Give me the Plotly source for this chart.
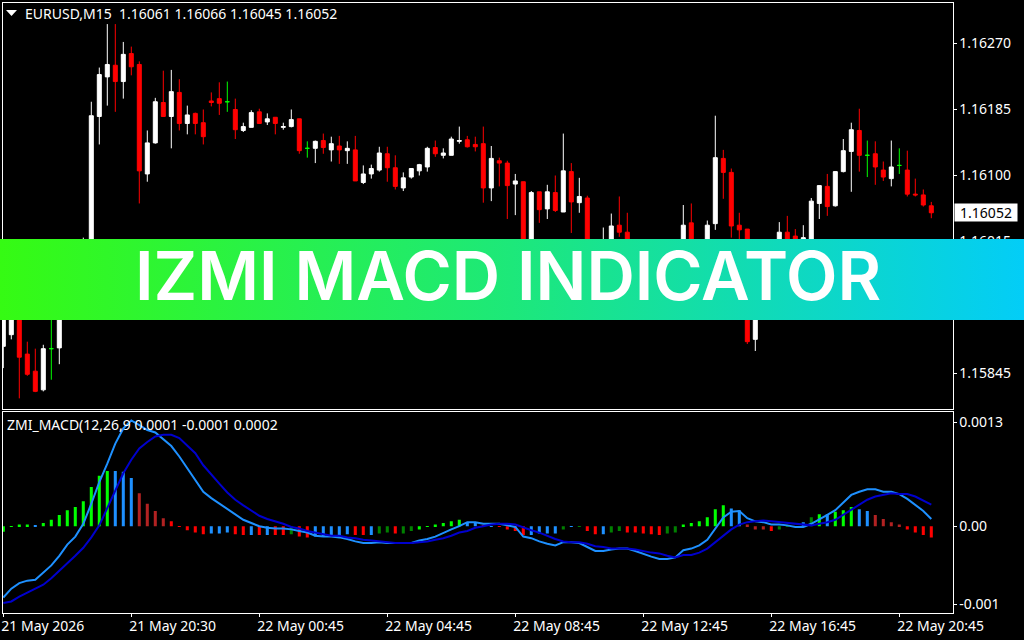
import base64
import plotly.graph_objects as go

# EURUSD M15 candles (the part behind the banner is a guess)
opens = [
    1.15880, 1.15895, 1.15953, 1.15870, 1.15848, 1.15824, 1.15877, 1.15878, 1.15946, 1.15972,
    1.15953, 1.15998, 1.16176, 1.16227, 1.16242, 1.16221, 1.16257, 1.16243, 1.16102, 1.16142,
    1.16194, 1.16176, 1.16207, 1.16167, 1.16180, 1.16168, 1.16196, 1.16199, 1.16195, 1.16185,
    1.16158, 1.16162, 1.16182, 1.16169, 1.16175, 1.16162, 1.16163, 1.16173, 1.16135, 1.16135,
    1.16145, 1.16133, 1.16138, 1.16132, 1.16133, 1.16091, 1.16102, 1.16107, 1.16128, 1.16110,
    1.16084, 1.16098, 1.16106, 1.16111, 1.16136, 1.16126, 1.16126, 1.16144, 1.16146, 1.16140,
    1.16141, 1.16084, 1.16119, 1.16116, 1.16089, 1.16092, 1.15989, 1.16079, 1.16057, 1.16078,
    1.16053, 1.16105, 1.16065, 1.16071, 1.15998, 1.15972, 1.16004, 1.16036, 1.16027, 1.15989,
    1.15953, 1.15981, 1.15959, 1.15985, 1.15950, 1.16002, 1.16039, 1.16004, 1.15989, 1.16038,
    1.16122, 1.16104, 1.16036, 1.16031, 1.15889, 1.15989, 1.16004, 1.15985, 1.16027, 1.16022,
    1.15998, 1.16004, 1.16064, 1.16086, 1.16061, 1.16105, 1.16131, 1.16158, 1.16126, 1.16128,
    1.16107, 1.16096, 1.16113, 1.16107, 1.16076, 1.16075, 1.16061,
]
highs = [
    1.15953, 1.15966, 1.15959, 1.15886, 1.15877, 1.15882, 1.15933, 1.15966, 1.15985, 1.15998,
    1.16020, 1.16195, 1.16239, 1.16295, 1.16295, 1.16272, 1.16266, 1.16247, 1.16158, 1.16200,
    1.16235, 1.16236, 1.16224, 1.16190, 1.16181, 1.16185, 1.16207, 1.16220, 1.16221, 1.16199,
    1.16168, 1.16184, 1.16186, 1.16180, 1.16175, 1.16168, 1.16185, 1.16173, 1.16144, 1.16145,
    1.16154, 1.16150, 1.16151, 1.16144, 1.16151, 1.16113, 1.16114, 1.16137, 1.16137, 1.16126,
    1.16104, 1.16109, 1.16115, 1.16137, 1.16145, 1.16135, 1.16150, 1.16163, 1.16151, 1.16150,
    1.16163, 1.16138, 1.16123, 1.16119, 1.16102, 1.16092, 1.16080, 1.16079, 1.16088, 1.16100,
    1.16154, 1.16116, 1.16097, 1.16074, 1.16007, 1.16033, 1.16051, 1.16073, 1.16052, 1.16004,
    1.15989, 1.15994, 1.15998, 1.15998, 1.16012, 1.16062, 1.16064, 1.16013, 1.16042, 1.16177,
    1.16133, 1.16109, 1.16052, 1.16031, 1.16004, 1.16012, 1.16013, 1.16040, 1.16048, 1.16031,
    1.16036, 1.16071, 1.16087, 1.16102, 1.16105, 1.16147, 1.16168, 1.16186, 1.16145, 1.16144,
    1.16118, 1.16145, 1.16135, 1.16132, 1.16096, 1.16082, 1.16066,
]
lows = [
    1.15852, 1.15889, 1.15813, 1.15842, 1.15821, 1.15822, 1.15837, 1.15857, 1.15940, 1.15946,
    1.15946, 1.15989, 1.16140, 1.16190, 1.16182, 1.16199, 1.16229, 1.16064, 1.16092, 1.16141,
    1.16176, 1.16135, 1.16158, 1.16153, 1.16153, 1.16140, 1.16189, 1.16178, 1.16182, 1.16147,
    1.16156, 1.16162, 1.16167, 1.16165, 1.16153, 1.16159, 1.16162, 1.16128, 1.16123, 1.16116,
    1.16128, 1.16118, 1.16115, 1.16115, 1.16093, 1.16089, 1.16096, 1.16105, 1.16092, 1.16082,
    1.16080, 1.16096, 1.16100, 1.16105, 1.16124, 1.16122, 1.16126, 1.16141, 1.16136, 1.16131,
    1.16065, 1.16067, 1.16086, 1.16044, 1.16049, 1.15978, 1.15978, 1.16039, 1.16044, 1.16053,
    1.16053, 1.16026, 1.16052, 1.15989, 1.15959, 1.15966, 1.15998, 1.16021, 1.15978, 1.15950,
    1.15945, 1.15945, 1.15950, 1.15940, 1.15942, 1.15994, 1.15998, 1.15978, 1.15981, 1.16030,
    1.16070, 1.16020, 1.16017, 1.15883, 1.15874, 1.15981, 1.15971, 1.15978, 1.15994, 1.15997,
    1.15991, 1.15998, 1.16044, 1.16048, 1.16060, 1.16104, 1.16079, 1.16105, 1.16098, 1.16088,
    1.16093, 1.16086, 1.16102, 1.16073, 1.16073, 1.16060, 1.16045,
]
closes = [
    1.15940, 1.15953, 1.15866, 1.15844, 1.15822, 1.15877, 1.15877, 1.15953, 1.15978, 1.15953,
    1.15998, 1.16177, 1.16230, 1.16243, 1.16221, 1.16256, 1.16240, 1.16106, 1.16142, 1.16195,
    1.16176, 1.16208, 1.16167, 1.16178, 1.16167, 1.16150, 1.16194, 1.16193, 1.16195, 1.16159,
    1.16163, 1.16181, 1.16167, 1.16173, 1.16167, 1.16163, 1.16172, 1.16132, 1.16135, 1.16144,
    1.16136, 1.16141, 1.16133, 1.16135, 1.16093, 1.16102, 1.16109, 1.16129, 1.16110, 1.16086,
    1.16097, 1.16109, 1.16114, 1.16135, 1.16128, 1.16129, 1.16147, 1.16145, 1.16137, 1.16137,
    1.16084, 1.16122, 1.16116, 1.16087, 1.16093, 1.15989, 1.16078, 1.16056, 1.16079, 1.16055,
    1.16106, 1.16066, 1.16073, 1.15998, 1.15972, 1.16011, 1.16035, 1.16027, 1.15989, 1.15959,
    1.15978, 1.15953, 1.15985, 1.15950, 1.16004, 1.16036, 1.16004, 1.15989, 1.16036, 1.16123,
    1.16104, 1.16035, 1.16030, 1.15886, 1.15998, 1.16004, 1.15978, 1.16027, 1.16002, 1.16004,
    1.16020, 1.16067, 1.16087, 1.16060, 1.16105, 1.16132, 1.16159, 1.16126, 1.16126, 1.16111,
    1.16098, 1.16111, 1.16113, 1.16076, 1.16075, 1.16062, 1.16052,
]

# ZMI_MACD window
macd = [
    -0.00089, -0.00078, -0.00071, -0.00068, -0.00067, -0.00058, -0.00049, -0.00037, -0.00023, -0.00013,
    0.00003, 0.00028, 0.00055, 0.00078, 0.00103, 0.00122, 0.00132, 0.00126, 0.00120, 0.00117,
    0.00108, 0.00100, 0.00087, 0.00072, 0.00058, 0.00043, 0.00035, 0.00028, 0.00022, 0.00015,
    0.00008, 0.00004, 0.00000, -0.00002, -0.00003, -0.00003, -0.00004, -0.00006, -0.00008, -0.00012,
    -0.00013, -0.00013, -0.00014, -0.00016, -0.00019, -0.00021, -0.00021, -0.00020, -0.00021, -0.00021,
    -0.00021, -0.00021, -0.00018, -0.00016, -0.00013, -0.00008, -0.00004, 0.00000, 0.00005, 0.00005,
    0.00003, 0.00003, 0.00003, 0.00001, -0.00001, -0.00013, -0.00015, -0.00019, -0.00022, -0.00024,
    -0.00020, -0.00020, -0.00021, -0.00026, -0.00031, -0.00031, -0.00029, -0.00028, -0.00028, -0.00031,
    -0.00035, -0.00038, -0.00041, -0.00041, -0.00039, -0.00030, -0.00028, -0.00024, -0.00017, -0.00003,
    0.00011, 0.00018, 0.00019, 0.00010, 0.00006, 0.00005, 0.00002, 0.00002, 0.00001, -0.00001,
    -0.00001, 0.00003, 0.00008, 0.00014, 0.00020, 0.00030, 0.00039, 0.00043, 0.00046, 0.00046,
    0.00043, 0.00043, 0.00040, 0.00034, 0.00026, 0.00019, 0.00009,
]
signal = [
    -0.00096, -0.00094, -0.00088, -0.00083, -0.00079, -0.00073, -0.00065, -0.00056, -0.00046, -0.00037,
    -0.00027, -0.00014, 0.00001, 0.00022, 0.00045, 0.00066, 0.00083, 0.00097, 0.00105, 0.00112,
    0.00114, 0.00114, 0.00110, 0.00101, 0.00091, 0.00076, 0.00064, 0.00053, 0.00042, 0.00033,
    0.00026, 0.00020, 0.00013, 0.00009, 0.00006, 0.00003, -0.00001, -0.00003, -0.00006, -0.00008,
    -0.00010, -0.00012, -0.00012, -0.00014, -0.00015, -0.00017, -0.00018, -0.00019, -0.00020, -0.00021,
    -0.00021, -0.00021, -0.00020, -0.00019, -0.00017, -0.00015, -0.00012, -0.00008, -0.00006, -0.00002,
    0.00000, 0.00002, 0.00003, 0.00003, 0.00002, -0.00002, -0.00005, -0.00008, -0.00012, -0.00016,
    -0.00019, -0.00020, -0.00020, -0.00022, -0.00025, -0.00026, -0.00028, -0.00028, -0.00028, -0.00029,
    -0.00031, -0.00033, -0.00034, -0.00037, -0.00039, -0.00036, -0.00036, -0.00033, -0.00028, -0.00020,
    -0.00011, -0.00004, 0.00002, 0.00005, 0.00006, 0.00007, 0.00006, 0.00005, 0.00004, 0.00003,
    0.00002, 0.00001, 0.00003, 0.00005, 0.00008, 0.00014, 0.00020, 0.00026, 0.00033, 0.00037,
    0.00039, 0.00041, 0.00040, 0.00040, 0.00037, 0.00032, 0.00027,
]
hist = [
    -0.00007, -0.00001, 0.00002, 0.00002, 0.00001, 0.00004, 0.00008, 0.00014, 0.00020, 0.00024,
    0.00031, 0.00049, 0.00063, 0.00069, 0.00069, 0.00068, 0.00060, 0.00041, 0.00028, 0.00019,
    0.00010, 0.00006, -0.00001, -0.00005, -0.00008, -0.00010, -0.00009, -0.00009, -0.00008, -0.00010,
    -0.00011, -0.00011, -0.00011, -0.00011, -0.00011, -0.00011, -0.00010, -0.00013, -0.00014, -0.00013,
    -0.00013, -0.00013, -0.00013, -0.00010, -0.00011, -0.00011, -0.00011, -0.00009, -0.00008, -0.00009,
    -0.00009, -0.00006, -0.00004, -0.00001, 0.00002, 0.00004, 0.00006, 0.00008, 0.00005, 0.00004,
    0.00001, -0.00001, -0.00001, -0.00004, -0.00006, -0.00011, -0.00011, -0.00009, -0.00009, -0.00009,
    -0.00004, -0.00001, -0.00001, -0.00006, -0.00010, -0.00010, -0.00008, -0.00006, -0.00008, -0.00008,
    -0.00009, -0.00010, -0.00011, -0.00009, -0.00008, 0.00002, 0.00004, 0.00006, 0.00011, 0.00021,
    0.00026, 0.00022, 0.00020, 0.00002, -0.00004, -0.00004, -0.00006, -0.00004, -0.00001, 0.00000,
    0.00005, 0.00011, 0.00015, 0.00015, 0.00018, 0.00020, 0.00024, 0.00021, 0.00019, 0.00014,
    0.00009, 0.00005, 0.00002, -0.00004, -0.00008, -0.00011, -0.00014,
]
# indicator state of each histogram bar
hist_state = list(
    "GGGGBGGGGGGGGGBBBFFFFRRRRRBBBRRBRBRRDRRBBBB"
    "BRRBDDRDDGGGGGGBBRBRRRRBBBBDBDRRBDDRRRRRDD"
    "GGGGGGBBFFFRDDDBDGBGGGBBFFFFRRRR"
)

date_ticks = [0, 16, 32, 48, 64, 80, 96, 112]
date_labels = ["21 May 2026", "21 May 20:30", "22 May 00:45", "22 May 04:45",
               "22 May 08:45", "22 May 12:45", "22 May 16:45", "22 May 20:45"]
price_ticks = [1.16270, 1.16185, 1.16100, 1.16015, 1.15930, 1.15845]
macd_ticks = [0.0013, 0.0, -0.000975]
macd_labels = ["0.0013", "0.00", "-0.001"]

x = list(range(len(closes)))
W, H = 1024, 640
FONT = "Noto Sans"
hist_colors = {"G": "#00ff00", "B": "#1e90ff", "F": "#b22222", "D": "#008000", "R": "#ff0000"}


def candles(keep, color):
    # one trace per colour, MT4 draws dojis in its own colour
    ids = [i for i in x if keep(opens[i], closes[i])]
    return go.Candlestick(
        x=ids,
        open=[opens[i] for i in ids],
        high=[highs[i] for i in ids],
        low=[lows[i] for i in ids],
        close=[closes[i] for i in ids],
        whiskerwidth=0,
        increasing=dict(line=dict(color=color, width=1), fillcolor=color),
        decreasing=dict(line=dict(color=color, width=1), fillcolor=color),
        hoverinfo="skip",
    )


fig = go.Figure()
fig.add_trace(candles(lambda o, c: c > o, "#ffffff"))
fig.add_trace(candles(lambda o, c: c < o, "#ff0000"))
fig.add_trace(candles(lambda o, c: c == o, "#00ff00"))

fig.add_trace(go.Bar(x=x, y=hist, width=0.38, xaxis="x2", yaxis="y2",
                     marker=dict(color=[hist_colors[s] for s in hist_state], line=dict(width=0))))
fig.add_trace(go.Scatter(x=x, y=macd, mode="lines", xaxis="x2", yaxis="y2",
                         line=dict(color="#1e90ff", width=2)))
fig.add_trace(go.Scatter(x=x, y=signal, mode="lines", xaxis="x2", yaxis="y2",
                         line=dict(color="#0000cd", width=2)))

axis_style = dict(showgrid=False, zeroline=False, showline=True, mirror=True, automargin=False,
                  linecolor="#ffffff", linewidth=1, ticks="outside", ticklen=3,
                  tickcolor="#ffffff", tickfont=dict(family=FONT, size=14, color="#ffffff"))
x_dom = [2.5 / W, 952.5 / W]
x_range = [-0.1, 118.65]

# gradient strip across the chart
svg = ('<svg xmlns="http://www.w3.org/2000/svg" width="1024" height="81" preserveAspectRatio="none">'
       '<defs><linearGradient id="g"><stop offset="0" stop-color="#35fb13"/>'
       '<stop offset="0.5" stop-color="#1de87a"/><stop offset="1" stop-color="#03cdf7"/>'
       '</linearGradient></defs><rect width="1024" height="81" fill="url(#g)"/></svg>')
banner = "data:image/svg+xml;base64," + base64.b64encode(svg.encode()).decode()

fig.update_layout(
    width=W, height=H,
    margin=dict(l=0, r=0, t=0, b=0),
    paper_bgcolor="#000000",
    plot_bgcolor="#000000",
    showlegend=False,
    boxgap=0.5,
    boxgroupgap=0,
    xaxis=dict(axis_style, domain=x_dom, range=x_range, rangeslider=dict(visible=False),
               ticks="", showticklabels=False, anchor="y"),
    yaxis=dict(axis_style, domain=[1 - 409 / H, 1 - 2.5 / H], range=[1.157993, 1.163228],
               side="right", anchor="x", tickvals=price_ticks, tickformat=".5f"),
    xaxis2=dict(axis_style, domain=x_dom, range=x_range, anchor="y2", tickvals=date_ticks,
                ticktext=date_labels, ticklabelposition="outside right", ticklabelshift=-3),
    yaxis2=dict(axis_style, domain=[1 - 612.7 / H, 1 - 412 / H], range=[-0.00108, 0.001425],
                side="right", anchor="x2", tickvals=macd_ticks, ticktext=macd_labels),
    images=[dict(source=banner, xref="paper", yref="paper", x=0, y=1 - 239 / H,
                 sizex=1, sizey=81 / H, sizing="stretch", xanchor="left", yanchor="top",
                 layer="above")],
    shapes=[dict(type="path", xref="paper", yref="paper", fillcolor="#ffffff", line=dict(width=0),
                 path=f"M {6 / W} {1 - 10 / H} L {17 / W} {1 - 10 / H} L {11.5 / W} {1 - 16 / H} Z")],
)

fig.add_annotation(x=23 / W, y=1 - 14 / H, xref="paper", yref="paper", xanchor="left", yanchor="middle",
                   showarrow=False, font=dict(family=FONT, size=14, color="#ffffff"),
                   text="EURUSD,M15\u00a0\u00a01.16061 1.16066 1.16045 1.16052")
fig.add_annotation(x=5 / W, y=1 - 424 / H, xref="paper", yref="paper", xanchor="left", yanchor="middle",
                   showarrow=False, font=dict(family=FONT, size=14, color="#ffffff"),
                   text="ZMI_MACD(12,26,9 0.0001 -0.0001 0.0002")
fig.add_annotation(x=954 / W, y=closes[-1], xref="paper", yref="y", xanchor="left", yanchor="middle",
                   showarrow=False, width=60, height=15, bgcolor="#ffffff", align="center",
                   font=dict(family=FONT, size=14, color="#000000"), text="1.16052")
fig.add_annotation(x=508 / W, y=1 - 275 / H, xref="paper", yref="paper", xanchor="center", yanchor="middle",
                   showarrow=False, font=dict(family="Inter", size=67, color="#ffffff", weight=600),
                   text="IZMI MACD INDICATOR")

fig.write_html("out.html", post_script="document.body.style.margin='0';",
               config=dict(displayModeBar=False))
